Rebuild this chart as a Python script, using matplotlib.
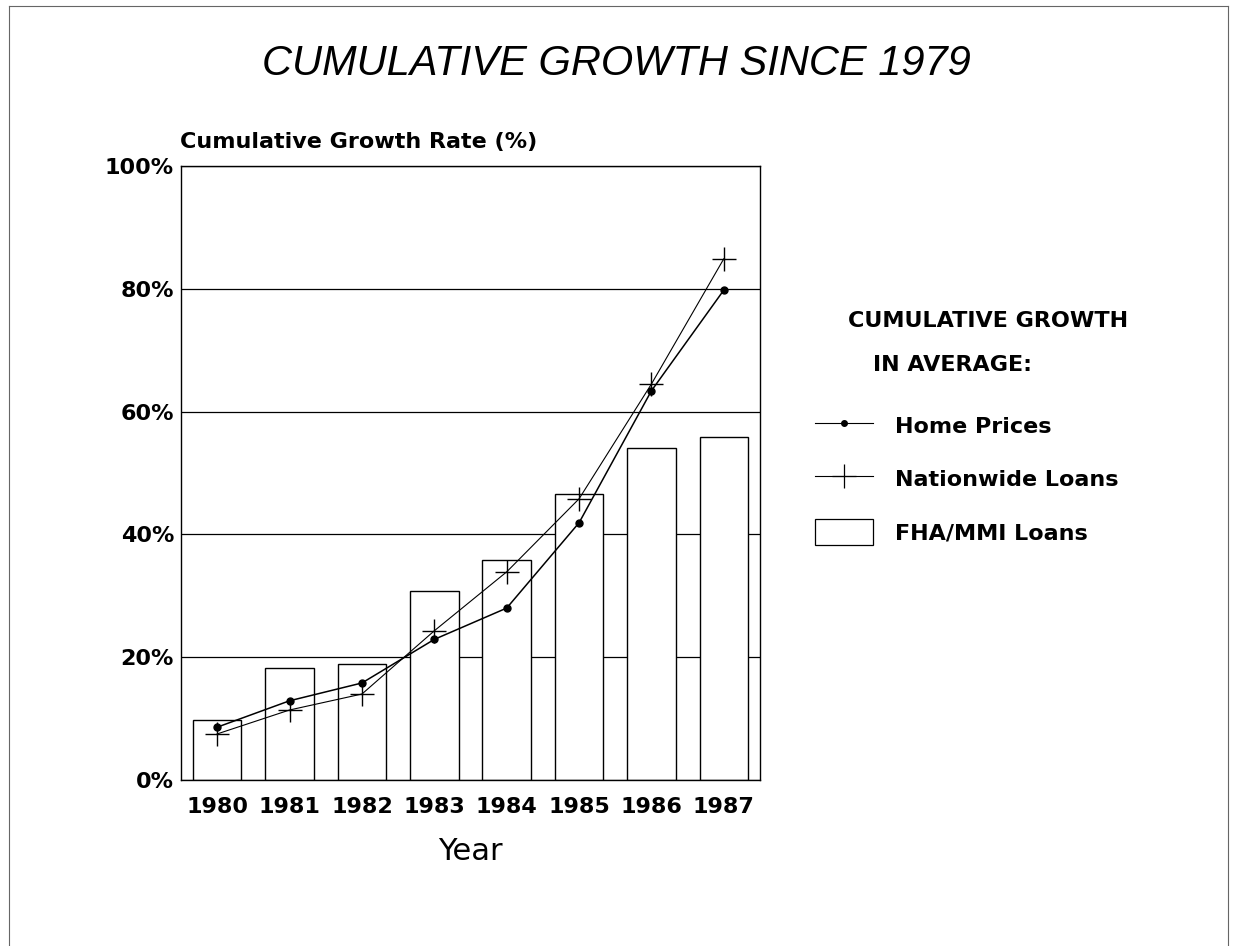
import matplotlib.pyplot as plt
from matplotlib.lines import Line2D
from matplotlib.patches import Rectangle

plt.rcParams['font.family'] = ['DejaVu Sans']
plt.rcParams['font.weight'] = 'bold'

years = ['1980', '1981', '1982', '1983', '1984', '1985', '1986', '1987']
fha_loans = [9.7, 18.2, 18.9, 30.8, 35.8, 46.6, 54.1, 55.9]
home_prices = [8.6, 12.9, 15.8, 22.9, 28.0, 41.9, 63.4, 79.8]
nationwide_loans = [7.5, 11.4, 14.0, 24.3, 33.9, 45.8, 64.5, 84.9]
y_ticks = [0, 20, 40, 60, 80, 100]

fig = plt.figure(figsize=(12.33, 9.46), dpi=100)
ax = fig.add_axes([0.1468, 0.1755, 0.4696, 0.649])

x = list(range(len(years)))

bars = ax.bar(x, fha_loans, width=0.67, color='white', edgecolor='black',
              linewidth=1.0, zorder=2)
ax.plot(x, home_prices, color='black', linewidth=1.1, marker='o',
        markersize=5, zorder=3)
ax.plot(x, nationwide_loans, color='black', linewidth=0.8, marker='+',
        markersize=17, markeredgewidth=1.0, zorder=3)

ax.set_xlim(-0.5, 7.5)
ax.set_ylim(0, 100)
ax.set_yticks(y_ticks)
ax.set_yticklabels([f'{v}%' for v in y_ticks])
ax.set_xticks(x)
ax.set_xticklabels(years)
ax.tick_params(axis='x', direction='in', length=10, width=1, pad=12, labelsize=16)
ax.tick_params(axis='y', length=0, pad=5, labelsize=16)
ax.yaxis.grid(True, color='black', linewidth=0.9, zorder=0)
ax.set_axisbelow(True)
for s in ax.spines.values():
    s.set_linewidth(1.0)
    s.set_color('black')

ax.set_xlabel('Year', fontsize=22, fontweight='normal', labelpad=15)
fig.text(0.146, 0.850, 'Cumulative Growth Rate (%)', fontsize=16, ha='left', va='center')
fig.text(0.5, 0.932, 'CUMULATIVE GROWTH SINCE 1979', fontsize=30, style='italic',
         fontweight='normal', family='Liberation Sans', ha='center', va='center')

# legend block on the right
fig.text(0.688, 0.661, 'CUMULATIVE GROWTH', fontsize=16, ha='left', va='center')
fig.text(0.708, 0.614, 'IN AVERAGE:', fontsize=16, ha='left', va='center')
handles = [
    Line2D([], [], color='black', linewidth=0.8, marker='o', markersize=4),
    Line2D([], [], color='black', linewidth=0.8, marker='+', markersize=17,
           markeredgewidth=0.9),
    Rectangle((0, 0), 1, 1, facecolor='white', edgecolor='black', linewidth=0.9),
]
labels = ['Home Prices', 'Nationwide Loans', 'FHA/MMI Loans']
fig.legend(handles, labels, loc='upper left', bbox_to_anchor=(0.645, 0.585),
           frameon=False, fontsize=16, handlelength=2.6, handleheight=1.4,
           labelspacing=1.25, handletextpad=1.0)

# scanned page border
for xs, ys in [((0.007, 0.007), (0.0, 0.994)), ((0.007, 0.996), (0.994, 0.994)),
               ((0.996, 0.996), (0.0, 0.994))]:
    fig.add_artist(Line2D(xs, ys, transform=fig.transFigure, color='#666666',
                          linewidth=0.8))

fig.savefig('out.png', dpi=100)
